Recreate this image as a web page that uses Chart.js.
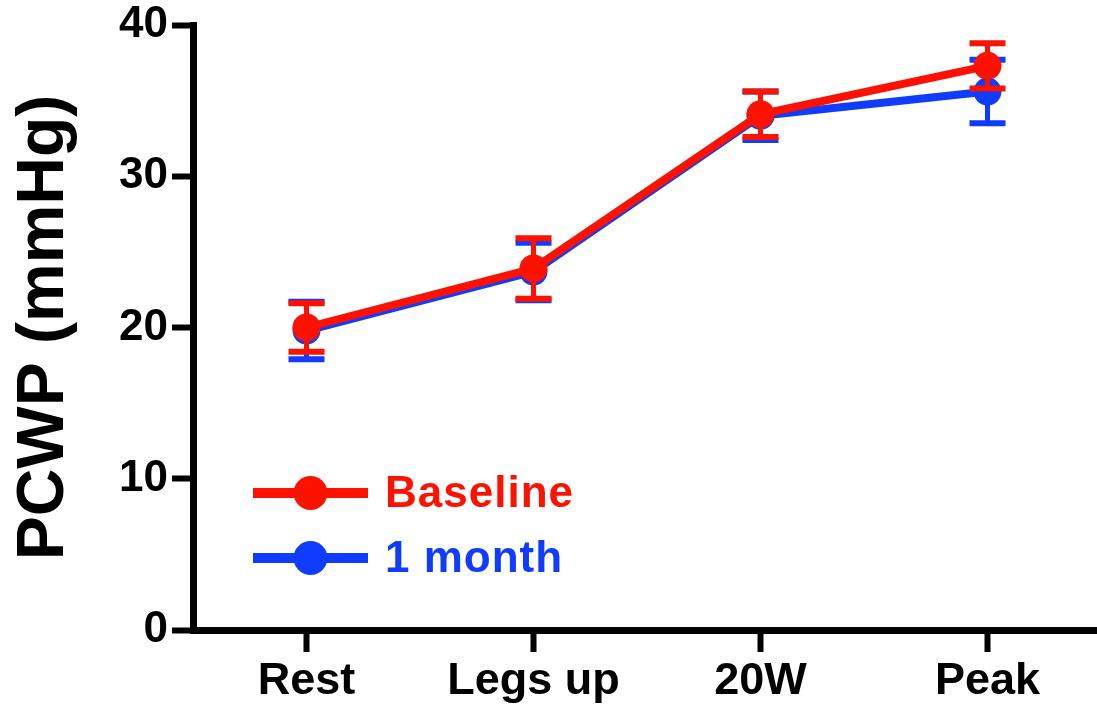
<!DOCTYPE html>
<html>
<head>
<meta charset="utf-8">
<script src="https://cdn.jsdelivr.net/npm/chart.js@4/dist/chart.umd.min.js"></script>
<style>
  html, body { margin: 0; padding: 0; background: #fff; overflow: hidden; }
  #wrap { width: 1097px; height: 707px; overflow: hidden; }
  #c { display: block; }
</style>
</head>
<body>
<div id="wrap"><canvas id="c" width="1101" height="707"></canvas></div>
<script>
// Conditions along the x axis
const categories = ['Rest', 'Legs up', '20W', 'Peak'];

// PCWP means (mmHg) and their error half-widths
const baselineMean = [20.0, 23.9, 34.1, 37.3];
const baselineErr  = [1.6, 2.0, 1.5, 1.5];
const monthMean    = [19.8, 23.7, 34.0, 35.6];
const monthErr     = [1.9, 1.9, 1.6, 2.1];

// Y-axis ticks
const yTicks = [0, 10, 20, 30, 40];

const RED = '#ff1100';
const BLUE = '#0f3cff';
const FONT = "'Liberation Sans', Arial, Helvetica, sans-serif";

// Error bars for each dataset, drawn just before that dataset so layering follows dataset order
const errorBarPlugin = {
  id: 'errorBars',
  beforeDatasetDraw(chart, args) {
    const ds = chart.data.datasets[args.index];
    if (!ds.errorBars) return;
    const { ctx } = chart;
    const yScale = chart.scales.y;
    ctx.save();
    ctx.strokeStyle = ds.borderColor;
    ctx.lineCap = 'butt';
    args.meta.data.forEach((pt, i) => {
      const v = ds.data[i];
      const e = ds.errorBars[i];
      const yTop = yScale.getPixelForValue(v + e);
      const yBot = yScale.getPixelForValue(v - e);
      const capHalf = 18;
      ctx.lineWidth = 5;
      ctx.beginPath();
      ctx.moveTo(pt.x, yTop);
      ctx.lineTo(pt.x, yBot);
      ctx.stroke();
      ctx.lineWidth = 6;
      ctx.beginPath();
      ctx.moveTo(pt.x - capHalf, yTop);
      ctx.lineTo(pt.x + capHalf, yTop);
      ctx.moveTo(pt.x - capHalf, yBot);
      ctx.lineTo(pt.x + capHalf, yBot);
      ctx.stroke();
    });
    ctx.restore();
  }
};

// Legend drawn inside the plot area, lower left
const insideLegendPlugin = {
  id: 'insideLegend',
  afterDraw(chart) {
    const { ctx, chartArea } = chart;
    const x0 = chartArea.left + 60;
    const lineLen = 115;
    const textX = x0 + lineLen + 17;
    const rows = [chartArea.top + 468, chartArea.top + 533];
    chart.data.datasets.forEach((ds, i) => {
      const y = rows[i];
      ctx.save();
      ctx.strokeStyle = ds.borderColor;
      ctx.lineWidth = 10;
      ctx.beginPath();
      ctx.moveTo(x0, y);
      ctx.lineTo(x0 + lineLen, y);
      ctx.stroke();
      ctx.fillStyle = ds.borderColor;
      ctx.beginPath();
      ctx.arc(x0 + lineLen / 2, y, 17, 0, Math.PI * 2);
      ctx.fill();
      ctx.font = 'bold 44px ' + FONT;
      if ('letterSpacing' in ctx) ctx.letterSpacing = '1px';
      ctx.textBaseline = 'middle';
      ctx.textAlign = 'left';
      ctx.fillText(ds.label, textX, y + 2);
      ctx.restore();
    });
  }
};

new Chart(document.getElementById('c'), {
  type: 'line',
  data: {
    labels: categories,
    datasets: [
      {
        label: 'Baseline',
        data: baselineMean,
        errorBars: baselineErr,
        borderColor: RED,
        backgroundColor: RED,
        borderWidth: 8,
        pointRadius: 14,
        pointBorderWidth: 0,
        pointBackgroundColor: RED,
        tension: 0
      },
      {
        label: '1 month',
        data: monthMean,
        errorBars: monthErr,
        borderColor: BLUE,
        backgroundColor: BLUE,
        borderWidth: 8,
        pointRadius: 14,
        pointBorderWidth: 0,
        pointBackgroundColor: BLUE,
        tension: 0
      }
    ]
  },
  options: {
    responsive: false,
    animation: false,
    devicePixelRatio: 1,
    layout: { autoPadding: false, padding: { top: 25, right: 0, bottom: 0, left: 0 } },
    plugins: {
      legend: { display: false },
      tooltip: { enabled: false }
    },
    scales: {
      x: {
        type: 'category',
        offset: true,
        grid: {
          drawOnChartArea: false,
          drawTicks: true,
          tickLength: 22,
          tickWidth: 6,
          tickColor: '#000',
          offset: false
        },
        border: { display: true, color: '#000', width: 7 },
        ticks: {
          color: '#000',
          padding: 3,
          font: { family: FONT, size: 45, weight: 'bold' },
          maxRotation: 0
        },
        afterFit(scale) { scale.height = 77; }
      },
      y: {
        min: 0,
        max: 40,
        afterBuildTicks(scale) { scale.ticks = yTicks.map(v => ({ value: v })); },
        grid: {
          drawOnChartArea: false,
          drawTicks: true,
          tickLength: 21,
          tickWidth: 6,
          tickColor: '#000'
        },
        border: { display: true, color: '#000', width: 7 },
        ticks: {
          color: '#000',
          padding: 4,
          font: { family: FONT, size: 44, weight: 'bold' }
        },
        title: {
          display: true,
          text: 'PCWP (mmHg)',
          color: '#000',
          padding: { top: 5, bottom: 0 },
          font: { family: FONT, size: 66, weight: 'bold' }
        },
        afterFit(scale) {
          scale.width = 193;
          scale.paddingTop = 0;
          scale.paddingBottom = 0;
        }
      }
    }
  },
  plugins: [errorBarPlugin, insideLegendPlugin]
});
</script>
</body>
</html>
